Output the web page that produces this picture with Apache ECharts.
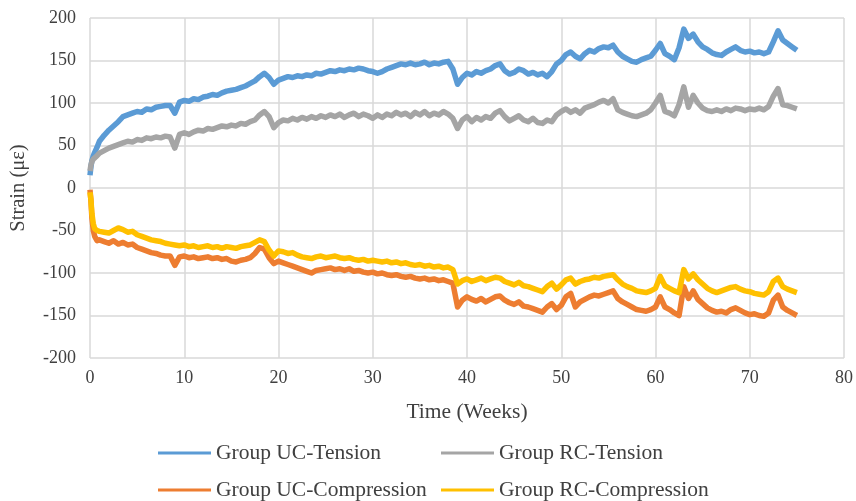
<!DOCTYPE html>
<html>
<head>
<meta charset="utf-8">
<script src="https://cdn.jsdelivr.net/npm/echarts@6/dist/echarts.min.js"></script>
<style>
  html, body { margin: 0; padding: 0; background: #fff; }
  #chart { width: 856px; height: 501px; }
</style>
</head>
<body>
<div id="chart"></div>
<script>
// Time axis in weeks (finer steps right after installation)
const weeks = [0, 0.1, 0.2, 0.35, 0.5, 0.75, 1,
  1.5, 2, 2.5, 3, 3.5, 4, 4.5, 5, 5.5, 6, 6.5, 7, 7.5, 8, 8.5, 9, 9.5, 10,
  10.5, 11, 11.5, 12, 12.5, 13, 13.5, 14, 14.5, 15, 15.5, 16, 16.5, 17, 17.5, 18, 18.5, 19, 19.5, 20,
  20.5, 21, 21.5, 22, 22.5, 23, 23.5, 24, 24.5, 25, 25.5, 26, 26.5, 27, 27.5, 28, 28.5, 29, 29.5, 30,
  30.5, 31, 31.5, 32, 32.5, 33, 33.5, 34, 34.5, 35, 35.5, 36, 36.5, 37, 37.5, 38, 38.5, 39, 39.5, 40,
  40.5, 41, 41.5, 42, 42.5, 43, 43.5, 44, 44.5, 45, 45.5, 46, 46.5, 47, 47.5, 48, 48.5, 49, 49.5, 50,
  50.5, 51, 51.5, 52, 52.5, 53, 53.5, 54, 54.5, 55, 55.5, 56, 56.5, 57, 57.5, 58, 58.5, 59, 59.5, 60,
  60.5, 61, 61.5, 62, 62.5, 63, 63.5, 64, 64.5, 65, 65.5, 66, 66.5, 67, 67.5, 68, 68.5, 69, 69.5, 70,
  70.5, 71, 71.5, 72, 72.5, 73, 73.5, 74, 74.5, 75];

// Strain readings (microstrain)
const ucTension = [15, 25, 32, 38, 42, 48, 55,
  62, 68, 73, 78, 84, 86, 88, 90, 89, 93, 92, 95, 96, 97, 97, 88, 101, 103,
  102, 105, 104, 107, 108, 110, 109, 112, 114, 115, 116, 118, 120, 123, 126, 131, 135, 130, 122, 127,
  129, 131, 130, 132, 131, 133, 132, 135, 134, 136, 138, 137, 139, 138, 140, 139, 141, 140, 138, 137,
  135, 137, 140, 142, 144, 146, 145, 147, 145, 146, 148, 145, 147, 146, 148, 149, 140, 122, 130, 135,
  133, 137, 135, 138, 140, 144, 146, 138, 134, 136, 140, 138, 134, 136, 133, 135, 131, 137, 146, 150,
  157, 160, 155, 152, 158, 162, 160, 164, 166, 165, 168, 160, 155, 152, 149, 148, 151, 153, 155, 162,
  170, 158, 155, 151, 165, 187, 176, 181, 172, 166, 163, 159, 157, 156, 160, 163, 166, 162, 160, 161,
  159, 160, 158, 160, 172, 185, 174, 170, 166, 162];

const rcTension = [20, 27, 31, 34, 36, 38, 41,
  44, 47, 49, 51, 53, 55, 54, 57, 56, 59, 58, 60, 59, 61, 60, 47, 63, 65,
  63, 66, 68, 67, 70, 69, 71, 73, 72, 74, 73, 76, 75, 78, 80, 86, 90, 84, 71, 77,
  80, 79, 82, 80, 83, 81, 84, 82, 85, 83, 86, 84, 87, 83, 86, 88, 84, 87, 85, 82,
  86, 83, 87, 85, 89, 86, 88, 84, 89, 86, 90, 85, 88, 86, 90, 87, 82, 70, 80, 84,
  78, 83, 80, 84, 82, 88, 91, 84, 79, 82, 85, 80, 78, 82, 77, 76, 80, 78, 86, 90,
  93, 89, 92, 88, 94, 96, 98, 101, 103, 100, 105, 92, 89, 87, 85, 84, 86, 88, 92, 100,
  109, 90, 88, 85, 98, 119, 95, 109, 100, 94, 91, 90, 92, 90, 93, 91, 94, 93, 91, 93,
  92, 94, 92, 96, 108, 117, 98, 97, 95, 93];

const ucCompression = [-2, -15, -35, -50, -57, -62, -61,
  -63, -65, -62, -66, -64, -67, -66, -70, -72, -74, -76, -77, -79, -80, -80, -91, -81, -80,
  -82, -81, -83, -82, -81, -83, -82, -84, -83, -86, -87, -85, -84, -82, -77, -70, -72, -82, -89, -86,
  -88, -90, -92, -94, -96, -98, -100, -97, -96, -95, -94, -96, -95, -97, -95, -98, -97, -99, -100, -99,
  -101, -100, -102, -103, -102, -104, -105, -104, -106, -107, -106, -108, -107, -109, -108, -110, -112, -140, -132, -128,
  -131, -133, -130, -134, -131, -128, -127, -132, -135, -137, -134, -139, -140, -142, -144, -146, -140, -136, -143, -138,
  -128, -124, -140, -134, -131, -128, -126, -127, -125, -123, -121, -130, -134, -137, -140, -143, -144, -145, -143, -140,
  -128, -140, -143, -147, -150, -116, -130, -121, -131, -136, -141, -144, -146, -145, -147, -143, -141, -144, -147, -149,
  -148, -150, -151, -147, -132, -126, -140, -144, -147, -150];

const rcCompression = [-5, -14, -30, -42, -48, -50, -51,
  -52, -53, -50, -47, -49, -52, -51, -55, -57, -59, -61, -62, -63, -65, -66, -67, -68, -67,
  -69, -68, -70, -69, -68, -70, -69, -71, -69, -70, -71, -69, -68, -67, -64, -61, -63, -73, -80, -74,
  -75, -77, -76, -79, -81, -82, -83, -81, -80, -82, -81, -80, -82, -83, -82, -84, -85, -84, -86, -85,
  -86, -87, -86, -88, -87, -89, -88, -90, -91, -90, -92, -91, -93, -92, -94, -93, -96, -113, -109, -107,
  -110, -108, -106, -109, -107, -105, -106, -110, -112, -114, -111, -115, -116, -118, -120, -122, -116, -112, -119, -114,
  -108, -106, -113, -110, -108, -107, -105, -106, -104, -103, -102, -108, -113, -116, -118, -121, -122, -123, -121, -118,
  -104, -115, -118, -121, -123, -96, -107, -101, -108, -113, -118, -121, -123, -121, -119, -117, -116, -119, -121, -122,
  -124, -125, -126, -122, -110, -106, -116, -119, -121, -123];

const seriesNames = ['Group UC-Tension', 'Group RC-Tension', 'Group UC-Compression', 'Group RC-Compression'];
const seriesColors = ['#5b9bd5', '#a5a5a5', '#ed7d31', '#ffc000'];
const seriesValues = [ucTension, rcTension, ucCompression, rcCompression];

const xTicks = { min: 0, max: 80, interval: 10 };
const yTicks = { min: -200, max: 200, interval: 50 };

const font = '"Liberation Serif", "Times New Roman", serif';
const textColor = '#404040';

function pairs(values) {
  return weeks.map((w, i) => [w, values[i]]);
}

// One legend per entry so the two columns line up
const legendSlots = [
  { left: 158, top: 442 },
  { left: 441, top: 442 },
  { left: 158, top: 479 },
  { left: 441, top: 479 }
];

const chart = echarts.init(document.getElementById('chart'), null, { renderer: 'canvas' });
chart.setOption({
  animation: false,
  backgroundColor: '#ffffff',
  grid: { left: 89, right: 11, top: 18, bottom: 143 },
  xAxis: {
    type: 'value',
    min: xTicks.min, max: xTicks.max, interval: xTicks.interval,
    name: 'Time (Weeks)',
    nameLocation: 'middle',
    nameGap: 43,
    nameTextStyle: { fontFamily: font, fontSize: 21.5, color: textColor },
    axisLine: { show: false },
    axisTick: { show: false },
    axisLabel: { fontFamily: font, fontSize: 18, color: textColor, margin: 11 },
    splitLine: { show: true, lineStyle: { color: '#d9d9d9', width: 1.5 } }
  },
  yAxis: {
    type: 'value',
    min: yTicks.min, max: yTicks.max, interval: yTicks.interval,
    name: 'Strain (με)',
    nameLocation: 'middle',
    nameGap: 61,
    nameRotate: 90,
    nameTextStyle: { fontFamily: font, fontSize: 20.5, color: textColor },
    axisLine: { show: false },
    axisTick: { show: false },
    axisLabel: { fontFamily: font, fontSize: 18, color: textColor, margin: 14 },
    splitLine: { show: true, lineStyle: { color: '#d9d9d9', width: 1.5 } }
  },
  legend: seriesNames.map((name, i) => ({
    data: [name],
    left: legendSlots[i].left,
    top: legendSlots[i].top,
    icon: 'rect',
    itemWidth: 53,
    itemHeight: 3,
    itemGap: 0,
    padding: 0,
    textStyle: { fontFamily: font, fontSize: 21.5, color: textColor, padding: [0, 0, 0, 0] }
  })),
  series: seriesNames.map((name, i) => ({
    name: name,
    type: 'line',
    data: pairs(seriesValues[i]),
    showSymbol: false,
    symbol: 'none',
    color: seriesColors[i],
    lineStyle: { color: seriesColors[i], width: 5.5, join: 'round' },
    z: 2 + i
  }))
});
</script>
</body>
</html>
